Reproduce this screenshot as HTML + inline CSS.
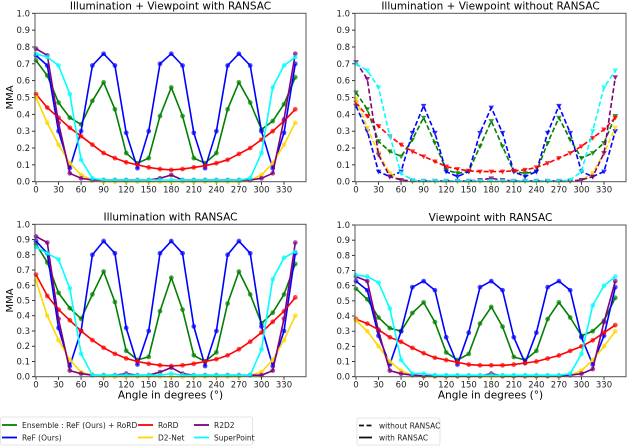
<!DOCTYPE html>
<html><head><meta charset="utf-8"><style>
body{margin:0;background:#fff}
svg{display:block;font-family:"DejaVu Sans","Liberation Sans",sans-serif}
</style></head><body>
<svg id="chart" width="640" height="447" viewBox="0 0 640 447"></svg>
<script>
const angles=[0,15,30,45,60,75,90,105,120,135,150,165,180,195,210,225,240,255,270,285,300,315,330,345];
const xTicks=[0,30,60,90,120,150,180,210,240,270,300,330];
const yTicks=[0,0.1,0.2,0.3,0.4,0.5,0.6,0.7,0.8,0.9,1.0];
const seriesNames=["ensemble","ref","rord","d2net","r2d2","superpoint"];
const seriesColors=["#008000","#0000ff","#ff0000","#ffd700","#800080","#00ffff"];
// Plot 1: Illumination + Viewpoint with RANSAC
const p1Ensemble=[0.72,0.63,0.47,0.38,0.34,0.48,0.59,0.43,0.17,0.11,0.14,0.39,0.56,0.39,0.14,0.11,0.17,0.43,0.59,0.47,0.31,0.36,0.46,0.62];
const p1Ref=[0.75,0.69,0.30,0.08,0.30,0.69,0.76,0.69,0.29,0.08,0.30,0.70,0.76,0.69,0.29,0.08,0.30,0.69,0.76,0.69,0.30,0.08,0.29,0.70];
const p1Rord=[0.52,0.44,0.38,0.32,0.27,0.22,0.17,0.14,0.115,0.10,0.085,0.075,0.07,0.075,0.085,0.095,0.11,0.13,0.165,0.20,0.25,0.30,0.36,0.43];
const p1D2=[0.50,0.35,0.22,0.11,0.04,0.01,0,0,0,0,0,0,0,0,0,0,0,0,0,0.01,0.04,0.11,0.22,0.35];
const p1R2d2=[0.79,0.75,0.35,0.05,0.02,0.01,0.01,0.01,0.01,0.01,0.01,0.02,0.04,0.01,0.01,0.01,0.01,0.01,0.01,0.01,0.02,0.05,0.37,0.76];
const p1Sp=[0.76,0.74,0.69,0.52,0.13,0.02,0.01,0.01,0.01,0.01,0.01,0.01,0.01,0.01,0.01,0.01,0.01,0.01,0.01,0.02,0.17,0.56,0.69,0.74];
// Plot 2: Illumination + Viewpoint without RANSAC
const p2Ensemble=[0.53,0.43,0.24,0.18,0.15,0.25,0.38,0.23,0.07,0.05,0.06,0.21,0.36,0.21,0.06,0.05,0.06,0.23,0.38,0.25,0.14,0.17,0.23,0.39];
const p2Ref=[0.45,0.30,0.06,0.03,0.06,0.29,0.45,0.29,0.06,0.03,0.06,0.29,0.44,0.29,0.06,0.03,0.06,0.29,0.45,0.29,0.06,0.03,0.06,0.30];
const p2Rord=[0.47,0.39,0.33,0.27,0.22,0.18,0.15,0.12,0.09,0.075,0.065,0.06,0.06,0.06,0.065,0.07,0.085,0.11,0.14,0.17,0.21,0.26,0.31,0.38];
const p2D2=[0.49,0.32,0.17,0.05,0.01,0,0,0,0,0,0,0,0,0,0,0,0,0,0,0,0.01,0.05,0.17,0.32];
const p2R2d2=[0.71,0.61,0.16,0.03,0.01,0.005,0.005,0.005,0.005,0.005,0.005,0.01,0.02,0.01,0.005,0.005,0.005,0.005,0.005,0.005,0.01,0.03,0.17,0.62];
const p2Sp=[0.70,0.66,0.56,0.27,0.05,0.01,0.005,0.005,0.005,0.005,0.005,0.005,0.005,0.005,0.005,0.005,0.005,0.005,0.005,0.01,0.06,0.30,0.56,0.66];
// Plot 3: Illumination with RANSAC
const p3Ensemble=[0.87,0.75,0.55,0.45,0.38,0.54,0.69,0.49,0.17,0.11,0.13,0.43,0.65,0.44,0.14,0.10,0.16,0.48,0.69,0.54,0.35,0.42,0.54,0.74];
const p3Ref=[0.89,0.81,0.32,0.07,0.30,0.80,0.89,0.81,0.32,0.08,0.30,0.81,0.89,0.81,0.33,0.07,0.30,0.80,0.89,0.81,0.33,0.07,0.30,0.81];
const p3Rord=[0.67,0.53,0.44,0.37,0.30,0.24,0.19,0.15,0.12,0.10,0.085,0.075,0.07,0.075,0.085,0.10,0.115,0.14,0.18,0.23,0.29,0.36,0.43,0.52];
const p3D2=[0.63,0.40,0.24,0.11,0.03,0.01,0,0,0,0,0,0,0,0,0,0,0,0,0,0.01,0.03,0.11,0.24,0.40];
const p3R2d2=[0.92,0.88,0.38,0.04,0.02,0.01,0.01,0.01,0.02,0.01,0.01,0.03,0.06,0.02,0.01,0.01,0.01,0.01,0.01,0.01,0.01,0.04,0.38,0.88];
const p3Sp=[0.85,0.81,0.77,0.58,0.15,0.01,0.01,0.01,0.01,0.01,0.01,0.01,0.02,0.01,0.01,0.01,0.01,0.01,0.01,0.01,0.18,0.64,0.78,0.82];
// Plot 4: Viewpoint with RANSAC
const p4Ensemble=[0.58,0.51,0.39,0.32,0.30,0.42,0.49,0.36,0.16,0.11,0.15,0.35,0.46,0.33,0.13,0.11,0.17,0.38,0.49,0.39,0.27,0.30,0.37,0.52];
const p4Ref=[0.63,0.57,0.27,0.08,0.30,0.59,0.63,0.57,0.26,0.08,0.29,0.59,0.63,0.57,0.26,0.09,0.29,0.59,0.63,0.57,0.26,0.08,0.27,0.59];
const p4Rord=[0.38,0.35,0.31,0.26,0.23,0.19,0.155,0.125,0.11,0.095,0.08,0.075,0.075,0.075,0.08,0.09,0.10,0.12,0.14,0.17,0.20,0.24,0.29,0.34];
const p4D2=[0.37,0.30,0.20,0.10,0.04,0.01,0,0,0,0,0,0,0,0,0,0,0,0,0,0.01,0.04,0.11,0.20,0.30];
const p4R2d2=[0.66,0.63,0.30,0.04,0.02,0.01,0.005,0.005,0.005,0.005,0.005,0.005,0.02,0.005,0.005,0.005,0.005,0.005,0.005,0.01,0.02,0.05,0.36,0.63];
const p4Sp=[0.67,0.66,0.62,0.45,0.11,0.02,0.02,0.01,0.01,0.01,0.01,0.01,0.01,0.01,0.01,0.01,0.01,0.01,0.01,0.02,0.15,0.47,0.60,0.66];

const NS="http://www.w3.org/2000/svg";
const svg=document.getElementById('chart');
function mk(tag,attrs,parent){const e=document.createElementNS(NS,tag);for(const k in attrs)e.setAttribute(k,attrs[k]);(parent||svg).appendChild(e);return e;}

const panels=[
 {title:"Illumination + Viewpoint with RANSAC",L:35,R:306,T:13.3,B:181.7,x0:36,ylab:true,xlab:false,dashed:false,data:[p1Ensemble,p1Ref,p1Rord,p1D2,p1R2d2,p1Sp],name:"panel-illum-viewpoint-ransac"},
 {title:"Illumination + Viewpoint without RANSAC",L:355,R:626,T:13.3,B:181.7,x0:356,ylab:false,xlab:false,dashed:true,data:[p2Ensemble,p2Ref,p2Rord,p2D2,p2R2d2,p2Sp],name:"panel-illum-viewpoint-no-ransac"},
 {title:"Illumination with RANSAC",L:35,R:306,T:224.3,B:376.7,x0:36,ylab:true,xlab:true,dashed:false,data:[p3Ensemble,p3Ref,p3Rord,p3D2,p3R2d2,p3Sp],name:"panel-illumination-ransac"},
 {title:"Viewpoint with RANSAC",L:355,R:626,T:225,B:376.7,x0:356,ylab:false,xlab:true,dashed:false,data:[p4Ensemble,p4Ref,p4Rord,p4D2,p4R2d2,p4Sp],name:"panel-viewpoint-ransac"}
];
const pxPerDeg=(284-36)/330;

panels.forEach(p=>{
 const g=mk('g',{});
 
 
 const xs=a=>p.x0+a*pxPerDeg;
 const ys=v=>p.B-v*(p.B-p.T);
 const t=mk('text',{x:(p.L+p.R)/2,y:p.T-4,'text-anchor':'middle','font-size':'10.5',fill:'#000'},g);
 t.textContent=p.title;
 
 
 yTicks.forEach(v=>{
  mk('line',{x1:p.L-3,x2:p.L,y1:ys(v),y2:ys(v),stroke:'#000','stroke-width':0.8},g);
  const tt=mk('text',{x:p.L-5,y:ys(v)+3,'text-anchor':'end','font-size':'8.5',fill:'#222'},g);
  tt.textContent=v.toFixed(1);
  
  
 });
 xTicks.forEach(a=>{
  mk('line',{x1:xs(a),x2:xs(a),y1:p.B,y2:p.B+3,stroke:'#000','stroke-width':0.8},g);
  const tt=mk('text',{x:xs(a),y:p.B+11,'text-anchor':'middle','font-size':'8.5',fill:'#222'},g);
  tt.textContent=a;
  
  
 });
 if(p.ylab){
  const yl=mk('text',{x:0,y:0,transform:`translate(13,${(p.T+p.B)/2}) rotate(-90)`,'text-anchor':'middle','font-size':'10',fill:'#000'},g);
  yl.textContent="MMA";
  
  
 }
 if(p.xlab){
  const xl=mk('text',{x:(p.L+p.R)/2,y:p.B+22,'text-anchor':'middle','font-size':'10.5',fill:'#000'},g);
  xl.textContent="Angle in degrees (°)";
  
  
 }
 p.data.forEach((vals,si)=>{
  const col=seriesColors[si];
  const pts=vals.map((v,i)=>xs(angles[i]).toFixed(1)+','+ys(v).toFixed(1)).join(' ');
  const sg=mk('g',{},g);
  
  
  const attrs={points:pts,fill:'none',stroke:col,'stroke-width':1.6,'stroke-linejoin':'round'};
  if(p.dashed)attrs['stroke-dasharray']='5,2.5';
  mk('polyline',attrs,sg);
  vals.forEach((v,i)=>{
   const cx=xs(angles[i]),cy=ys(v);
   if(p.dashed){
    mk('polygon',{points:`${cx-2.8},${cy-2} ${cx+2.8},${cy-2} ${cx},${cy+2.8}`,fill:col,opacity:0.8},sg);
   } else {
    mk('circle',{cx:cx,cy:cy,r:2.4,fill:col,opacity:0.7},sg);
   }
  });
 });
 mk('rect',{x:p.L,y:p.T,width:p.R-p.L,height:p.B-p.T,fill:'none',stroke:'#555','stroke-width':1},g);
});

// Legend 1
const lg=mk('g',{});


mk('rect',{x:0.5,y:417,width:252,height:28,fill:'#fff',stroke:'#ddd','stroke-width':0.8,rx:2},lg);
const legEntries=[
 {label:"Ensemble : ReF (Ours) + RoRD",c:0,x:2,y:425},
 {label:"ReF (Ours)",c:1,x:2,y:437.5},
 {label:"RoRD",c:2,x:138,y:425},
 {label:"D2-Net",c:3,x:138,y:437.5},
 {label:"R2D2",c:4,x:194,y:425},
 {label:"SuperPoint",c:5,x:194,y:437.5}
];
legEntries.forEach(e=>{
 const eg=mk('g',{},lg);
 
 
 mk('line',{x1:e.x,x2:e.x+15,y1:e.y,y2:e.y,stroke:seriesColors[e.c],'stroke-width':1.8},eg);
 const t=mk('text',{x:e.x+20,y:e.y+3,'font-size':'7.5',fill:'#222'},eg);
 t.textContent=e.label;
});
// Legend 2
const lg2=mk('g',{});


mk('rect',{x:357,y:418,width:83,height:27,fill:'#fff',stroke:'#ddd','stroke-width':0.8,rx:2},lg2);
[{label:"without RANSAC",y:425.5,dash:'5,2.5'},{label:"with RANSAC",y:437.5,dash:null}].forEach(e=>{
 const eg=mk('g',{},lg2);
 
 
 const a={x1:359,x2:372,y1:e.y,y2:e.y,stroke:'#111','stroke-width':1.8};
 if(e.dash)a['stroke-dasharray']=e.dash;
 mk('line',a,eg);
 const t=mk('text',{x:379,y:e.y+3,'font-size':'7.5',fill:'#222'},eg);
 t.textContent=e.label;
});
</script>
</body></html>
